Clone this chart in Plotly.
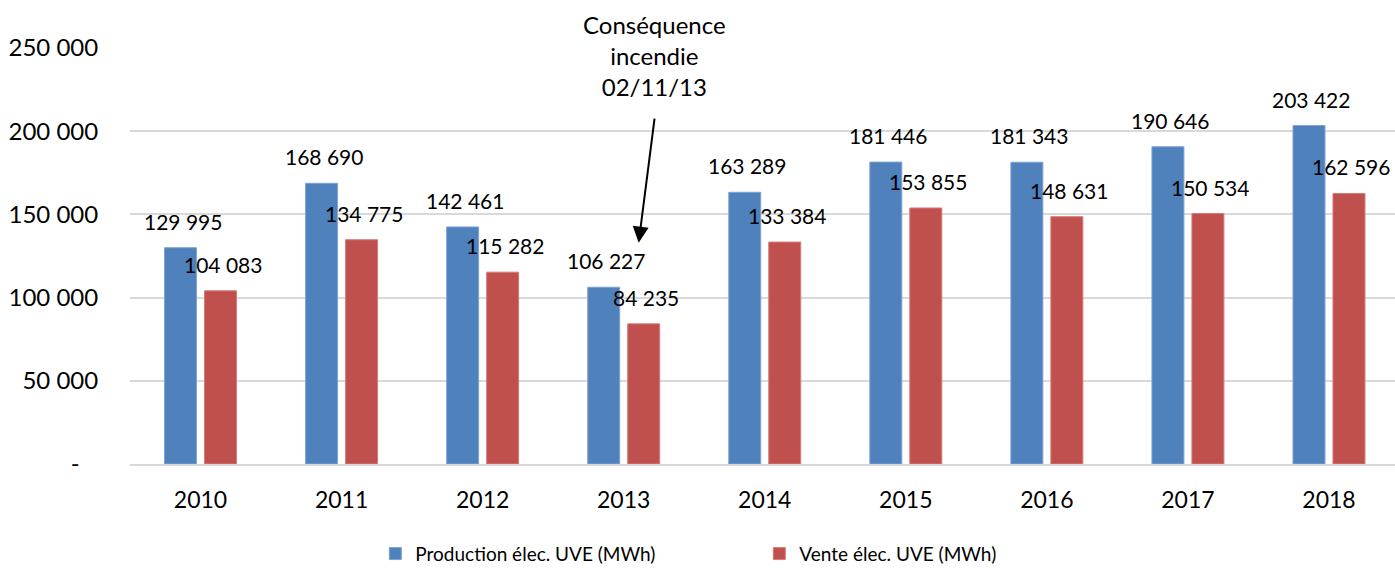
import plotly.graph_objects as go

years = ["2010", "2011", "2012", "2013", "2014", "2015", "2016", "2017", "2018"]
production = [129995, 168690, 142461, 106227, 163289, 181446, 181343, 190646, 203422]
vente = [104083, 134775, 115282, 84235, 133384, 153855, 148631, 150534, 162596]
y_ticks = [0, 50000, 100000, 150000, 200000, 250000]
note_text = "Conséquence<br>incendie<br>02/11/13"

BLUE = "#4F81BD"
RED = "#C0504D"
FONT = "Lato, sans-serif"


def fmt(v):
    return f"{v:,}".replace(",", " ")


fig = go.Figure()
fig.add_trace(go.Bar(x=years, y=production, name="Production élec. UVE (MWh)",
                     marker=dict(color=BLUE, line=dict(color="#7fa3d3", width=1))))
fig.add_trace(go.Bar(x=years, y=vente, name="Vente élec. UVE (MWh)",
                     marker=dict(color=RED, line=dict(color="#d47c79", width=1))))

annotations = []
for i, yr in enumerate(years):
    annotations.append(dict(x=i, y=production[i], text=fmt(production[i]), showarrow=False,
                            xref="x", yref="y", yanchor="bottom", xshift=-18, yshift=12,
                            font=dict(size=21, color="#000", family=FONT)))
    annotations.append(dict(x=i, y=vente[i], text=fmt(vente[i]), showarrow=False,
                            xref="x", yref="y", yanchor="bottom", xshift=22, yshift=12,
                            font=dict(size=21, color="#000", family=FONT)))

# arrow
annotations.append(dict(x=3.106, y=133000, xref="x", yref="y", text="", showarrow=True,
                        ax=3.22, ay=208500, axref="x", ayref="y",
                        arrowhead=2, arrowsize=1.6, arrowwidth=2, arrowcolor="#000"))
annotations.append(dict(x=3.22, y=208500, xref="x", yref="y", text=note_text, showarrow=False,
                        yanchor="bottom", yshift=14, align="center",
                        font=dict(size=24, color="#000", family=FONT)))

fig.update_layout(
    width=1395, height=568,
    margin=dict(l=130, r=0, t=48, b=104, autoexpand=False),
    paper_bgcolor="white", plot_bgcolor="white",
    barmode="group", bargap=0.433, bargroupgap=0.2,
    font=dict(family=FONT, size=22, color="#000"),
    showlegend=True,
    legend=dict(orientation="h", x=0.4975, xanchor="center", y=-0.17, yanchor="top",
                font=dict(size=19, color="#000", family=FONT), entrywidth=339),
    annotations=annotations,
    xaxis=dict(type="category", range=[-0.5, 8.468], showgrid=False, showline=True,
               linecolor="#d9d9d9", linewidth=2, ticks="outside", ticklen=14,
               tickcolor="rgba(0,0,0,0)",
               tickfont=dict(size=23, family=FONT, color="#000")),
    yaxis=dict(range=[0, 250000], tickvals=y_ticks,
               ticktext=[fmt(v) if v else "-\u00a0\u00a0\u00a0" for v in y_ticks],
               showgrid=True, gridcolor="#d9d9d9", gridwidth=2, zeroline=False,
               ticks="outside", ticklen=26, tickcolor="rgba(0,0,0,0)",
               tickfont=dict(size=24, family=FONT, color="#000")),
)

fig.write_html("out.html", config={"displayModeBar": False},
               post_script="document.body.style.margin='0';document.body.style.overflow='hidden';")
